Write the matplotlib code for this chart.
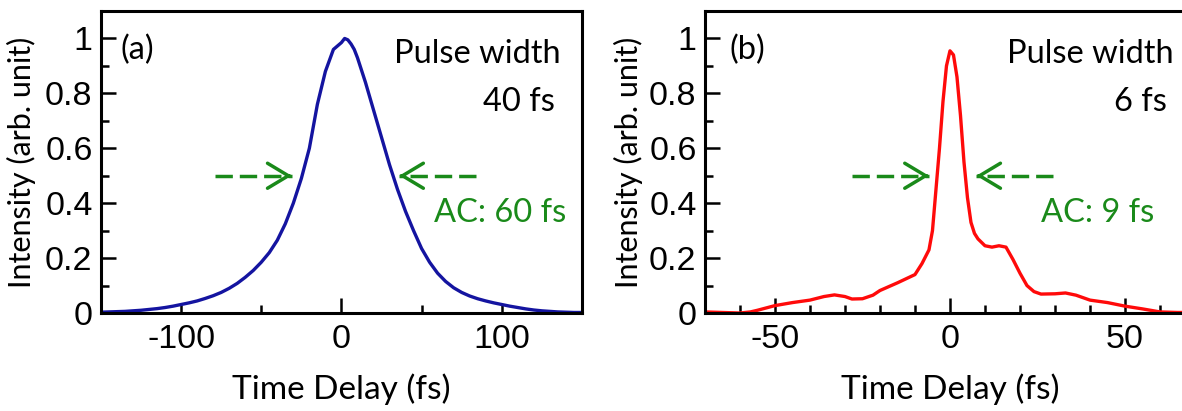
import numpy as np
import matplotlib.pyplot as plt
from matplotlib.ticker import MultipleLocator, FixedLocator

# autocorrelation traces, intensity vs time delay (fs)
delay_a = [-150, -145, -140, -135, -130, -125, -120, -115, -110, -105, -100, -95, -90, -85,
           -80, -75, -70, -65, -60, -55, -50, -45, -40, -35, -30, -25, -20, -15, -10, -5,
           0, 2, 4, 6, 8, 10, 15, 20, 25, 30, 35, 40, 45, 50, 55, 60, 65, 70, 75, 80, 85,
           90, 95, 100, 105, 110, 115, 120, 125, 130, 135, 140, 145, 150]
intens_a = [0.003, 0.004, 0.005, 0.006, 0.008, 0.010, 0.013, 0.016, 0.020, 0.025, 0.031, 0.037,
            0.044, 0.053, 0.063, 0.075, 0.090, 0.108, 0.130, 0.155, 0.185, 0.22, 0.265, 0.325,
            0.40, 0.49, 0.60, 0.76, 0.88, 0.96, 0.985, 1.0, 0.995, 0.98, 0.96, 0.93, 0.84,
            0.74, 0.64, 0.54, 0.45, 0.37, 0.30, 0.235, 0.185, 0.145, 0.115, 0.092, 0.075,
            0.062, 0.052, 0.044, 0.037, 0.031, 0.025, 0.020, 0.015, 0.011, 0.008, 0.006,
            0.004, 0.003, 0.002, 0.002]

delay_b = [-70, -65, -60, -57, -55, -50, -45, -40, -36, -33, -30, -28, -25, -22, -20, -15,
           -10, -8, -6, -5, -4, -3, -2, -1, 0, 1, 2, 3, 4, 5, 6, 7, 8, 10, 12, 14, 16, 18,
           20, 22, 24, 26, 30, 33, 36, 40, 45, 50, 55, 60, 65, 70]
intens_b = [0.004, 0.002, 0.0, 0.004, 0.01, 0.027, 0.038, 0.047, 0.06, 0.066, 0.06, 0.051,
            0.052, 0.065, 0.082, 0.11, 0.14, 0.18, 0.23, 0.30, 0.45, 0.60, 0.77, 0.90, 0.955,
            0.94, 0.86, 0.72, 0.55, 0.42, 0.33, 0.29, 0.27, 0.245, 0.24, 0.245, 0.24, 0.195,
            0.145, 0.10, 0.078, 0.069, 0.07, 0.073, 0.065, 0.047, 0.038, 0.025, 0.015, 0.004,
            0.002, 0.002]

# half-maximum arrows: (tail, tip)
arrows_a = [(-79, -31), (84, 36)]
arrows_b = [(-28, -6), (29.5, 7.5)]

green = '#1a8a1a'
tick_font = 'Liberation Sans'
text_font = 'Lato'
text_size = 23.5

fig = plt.figure(figsize=(11.82, 4.11), dpi=100)
ax_a = fig.add_axes([0.0854, 0.2384, 0.4069, 0.7348])
ax_b = fig.add_axes([0.5964, 0.2384, 0.4146, 0.7348])


def style_axes(ax, xlim, major, minor):
    ax.set_xlim(*xlim)
    ax.set_ylim(0, 1.1)
    for s in ax.spines.values():
        s.set_linewidth(2.2)
    ax.xaxis.set_major_locator(FixedLocator(major))
    ax.xaxis.set_minor_locator(MultipleLocator(minor))
    ax.yaxis.set_major_locator(FixedLocator([0, 0.2, 0.4, 0.6, 0.8, 1]))
    ax.yaxis.set_minor_locator(MultipleLocator(0.1))
    ax.set_yticklabels(['0', '0.2', '0.4', '0.6', '0.8', '1'])
    ax.set_xticklabels([str(v) for v in major])
    ax.tick_params(which='both', direction='in', top=False, right=False, width=1.8)
    ax.tick_params(which='major', length=11, labelsize=24.5)
    ax.tick_params(which='minor', length=5.5)
    ax.tick_params(axis='x', which='major', pad=8)
    ax.tick_params(axis='y', which='major', pad=6)
    for lab in ax.get_xticklabels() + ax.get_yticklabels():
        lab.set_family(tick_font)
    ax.set_xlabel('Time Delay (fs)', fontsize=24, family=text_font)
    ax.set_ylabel('Intensity (arb. unit)', fontsize=22, family=text_font)
    ax.xaxis.set_label_coords(0.5, -0.2)


def draw_arrows(ax, arrows):
    for tail, tip in arrows:
        ax.plot([tail, tip], [0.5, 0.5], color=green, lw=2.5, dashes=(5, 2))
        step = (tip - tail) * 0.05
        ax.annotate('', xy=(tip, 0.5), xytext=(tip - step, 0.5),
                    arrowprops=dict(arrowstyle='->,head_length=1.5,head_width=0.9',
                                    color=green, lw=2.5, shrinkA=0, shrinkB=0))


# (a) 40 fs pulse
ax_a.plot(delay_a, intens_a, color='#1414a0', lw=2.4)
style_axes(ax_a, (-150, 150), [-100, 0, 100], 50)
ax_a.tick_params(axis='x', which='major', length=5.5)
ax_a.xaxis.get_major_ticks()[1].tick1line.set_markersize(11)
ax_a.yaxis.set_label_coords(-0.134, 0.5)
draw_arrows(ax_a, arrows_a)
ax_a.text(-138, 0.96, '(a)', fontsize=text_size, family=text_font, va='center')
ax_a.text(137, 0.945, 'Pulse width', fontsize=text_size, family=text_font, ha='right', va='center')
ax_a.text(133, 0.77, '40 fs', fontsize=text_size, family=text_font, ha='right', va='center')
ax_a.text(140, 0.364, 'AC: 60 fs', fontsize=text_size, family=text_font, ha='right', va='center',
          color=green)

# (b) 6 fs pulse
ax_b.plot(delay_b, intens_b, color='#ff0a0a', lw=2.4)
style_axes(ax_b, (-70, 70), [-50, 0, 50], 10)
ax_b.yaxis.set_label_coords(-0.127, 0.5)
draw_arrows(ax_b, arrows_b)
ax_b.text(-63, 0.96, '(b)', fontsize=text_size, family=text_font, va='center')
ax_b.text(64, 0.945, 'Pulse width', fontsize=text_size, family=text_font, ha='right', va='center')
ax_b.text(62, 0.77, '6 fs', fontsize=text_size, family=text_font, ha='right', va='center')
ax_b.text(58.5, 0.364, 'AC: 9 fs', fontsize=text_size, family=text_font, ha='right', va='center',
          color=green)

fig.savefig('out.png', dpi=100)
